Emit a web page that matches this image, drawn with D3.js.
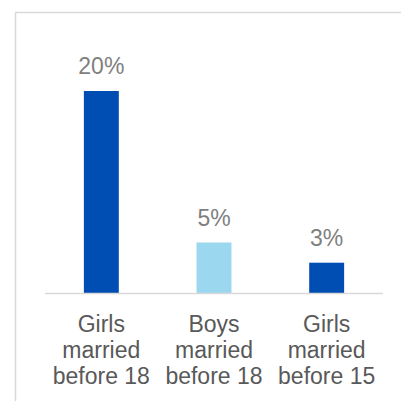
<!DOCTYPE html>
<html>
<head>
<meta charset="utf-8">
<script src="https://cdn.jsdelivr.net/npm/d3@7"></script>
<style>
  html, body { margin: 0; padding: 0; background: #fff; }
  svg { display: block; }
</style>
</head>
<body>
<svg id="chart" width="401" height="401"></svg>
<script>
// Child marriage rates by group
const categories = [
  ["Girls", "married", "before 18"],
  ["Boys", "married", "before 18"],
  ["Girls", "married", "before 15"]
];
const values = [20, 5, 3];
const valueLabels = ["20%", "5%", "3%"];
const barColors = ["#004db3", "#9bd7ef", "#004db3"];

const svg = d3.select("#chart");
const W = 401, H = 401;
const fontFamily = "'Liberation Sans', Arial, sans-serif";

// Light frame around the panel
svg.append("rect")
  .attr("x", 15.5).attr("y", 12.5)
  .attr("width", W).attr("height", H)
  .attr("fill", "none")
  .attr("stroke", "#d9d9d9")
  .attr("stroke-width", 1.5);

const x = d3.scaleBand()
  .domain(d3.range(values.length))
  .range([45, 383])
  .paddingInner(0.69)
  .paddingOuter(0.345);

const y = d3.scaleLinear()
  .domain([0, 20])
  .range([293, 91]);

// Bars
svg.selectAll("rect.bar")
  .data(values)
  .join("rect")
  .attr("class", "bar")
  .attr("x", (d, i) => x(i))
  .attr("width", x.bandwidth())
  .attr("y", d => y(d))
  .attr("height", d => y(0) - y(d))
  .attr("fill", (d, i) => barColors[i]);

// Baseline
svg.append("line")
  .attr("x1", 45).attr("x2", 383)
  .attr("y1", y(0) + 0.5).attr("y2", y(0) + 0.5)
  .attr("stroke", "#d9d9d9")
  .attr("stroke-width", 1.5);

// Value labels
svg.selectAll("text.value")
  .data(values)
  .join("text")
  .attr("class", "value")
  .attr("x", (d, i) => x(i) + x.bandwidth() / 2)
  .attr("y", d => y(d) - 17)
  .attr("text-anchor", "middle")
  .attr("font-family", fontFamily)
  .attr("font-size", 23)
  .attr("fill", "#7f7f7f")
  .text((d, i) => valueLabels[i]);

// Category labels (three lines each)
const cat = svg.selectAll("text.cat")
  .data(categories)
  .join("text")
  .attr("class", "cat")
  .attr("text-anchor", "middle")
  .attr("font-family", fontFamily)
  .attr("font-size", 23)
  .attr("fill", "#595959");

cat.selectAll("tspan")
  .data((d, i) => d.map(t => ({ t, i })))
  .join("tspan")
  .attr("x", d => x(d.i) + x.bandwidth() / 2)
  .attr("y", (d, j) => 332 + j * 26)
  .text(d => d.t);
</script>
</body>
</html>
